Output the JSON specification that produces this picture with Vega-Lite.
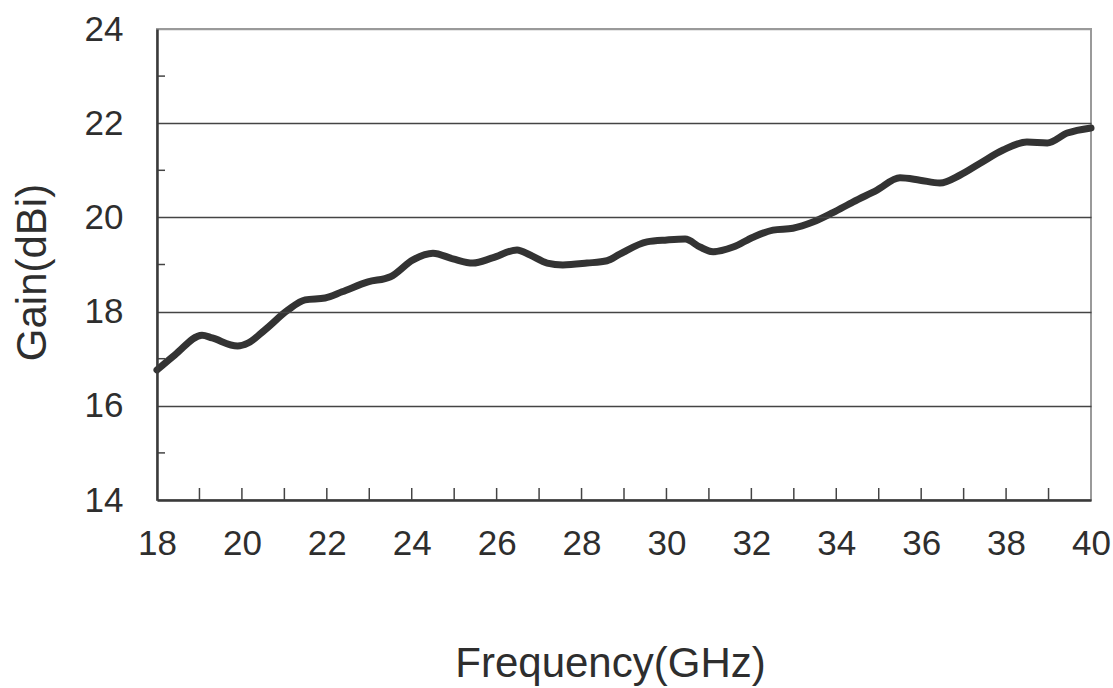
{
  "$schema": "https://vega.github.io/schema/vega-lite/v6.json",
  "width": 934,
  "height": 471,
  "autosize": {"type": "none"},
  "padding": {"left": 157, "top": 29, "right": 22, "bottom": 188},
  "background": "white",
  "config": {
    "view": {"stroke": "#9a9a9a", "strokeWidth": 2},
    "font": "Liberation Sans"
  },
  "datasets": {
    "gain": [
      {"f": 18.0, "g": 16.76},
      {"f": 18.42, "g": 17.08},
      {"f": 19.06, "g": 17.5},
      {"f": 19.3, "g": 17.44},
      {"f": 19.9, "g": 17.27},
      {"f": 20.14, "g": 17.33},
      {"f": 20.54, "g": 17.61},
      {"f": 21.08, "g": 18.03},
      {"f": 21.49, "g": 18.25},
      {"f": 21.96, "g": 18.29},
      {"f": 22.36, "g": 18.42},
      {"f": 22.97, "g": 18.63},
      {"f": 23.5, "g": 18.74},
      {"f": 24.03, "g": 19.1},
      {"f": 24.5, "g": 19.24},
      {"f": 24.97, "g": 19.12},
      {"f": 25.44, "g": 19.03},
      {"f": 25.9, "g": 19.14},
      {"f": 26.48, "g": 19.31},
      {"f": 26.79, "g": 19.2},
      {"f": 27.19, "g": 19.03},
      {"f": 27.56, "g": 18.99},
      {"f": 28.13, "g": 19.03},
      {"f": 28.6, "g": 19.08},
      {"f": 28.9, "g": 19.22},
      {"f": 29.54, "g": 19.48},
      {"f": 30.01, "g": 19.52},
      {"f": 30.44, "g": 19.54},
      {"f": 30.79, "g": 19.37},
      {"f": 31.1, "g": 19.27},
      {"f": 31.57, "g": 19.37},
      {"f": 32.04, "g": 19.58},
      {"f": 32.51, "g": 19.73},
      {"f": 32.98, "g": 19.77},
      {"f": 33.45, "g": 19.9},
      {"f": 33.92, "g": 20.1},
      {"f": 34.4, "g": 20.33},
      {"f": 34.96, "g": 20.58},
      {"f": 35.5, "g": 20.84},
      {"f": 35.97, "g": 20.79},
      {"f": 36.44, "g": 20.73},
      {"f": 36.92, "g": 20.9},
      {"f": 37.39, "g": 21.15},
      {"f": 37.93, "g": 21.43},
      {"f": 38.49, "g": 21.6},
      {"f": 38.97, "g": 21.58},
      {"f": 39.44, "g": 21.79},
      {"f": 40.0, "g": 21.9}
    ],
    "xticks": [
      {"f": 19}, {"f": 20}, {"f": 21}, {"f": 22}, {"f": 23}, {"f": 24}, {"f": 25},
      {"f": 26}, {"f": 27}, {"f": 28}, {"f": 29}, {"f": 30}, {"f": 31}, {"f": 32},
      {"f": 33}, {"f": 34}, {"f": 35}, {"f": 36}, {"f": 37}, {"f": 38}, {"f": 39}
    ],
    "yticks": [
      {"g": 15}, {"g": 17}, {"g": 19}, {"g": 21}, {"g": 23}
    ]
  },
  "layer": [
    {
      "data": {"name": "gain"},
      "mark": {"type": "line", "color": "#333333", "strokeWidth": 7, "interpolate": "monotone", "strokeCap": "round", "strokeJoin": "round", "clip": false},
      "encoding": {
        "x": {
          "field": "f", "type": "quantitative",
          "scale": {"domain": [18, 40], "nice": false, "zero": false},
          "axis": {
            "values": [18, 20, 22, 24, 26, 28, 30, 32, 34, 36, 38, 40],
            "grid": false, "ticks": false, "tickSize": 0,
            "labelFontSize": 35, "labelColor": "#2e2e2e", "labelPadding": 26, "labelFlush": false,
            "domainColor": "#3a3a3a", "domainWidth": 2.5,
            "title": "Frequency(GHz)", "titleFontSize": 42, "titleFontWeight": "normal",
            "titleColor": "#2e2e2e", "titlePadding": 82, "titleX": 453, "zindex": 1
          }
        },
        "y": {
          "field": "g", "type": "quantitative",
          "scale": {"domain": [14, 24], "nice": false, "zero": false},
          "axis": {
            "values": [14, 16, 18, 20, 22, 24],
            "grid": true,
            "gridColor": {"condition": {"test": "datum.value == 24 || datum.value == 14", "value": "#9a9a9a"}, "value": "#444444"},
            "gridWidth": 1.5,
            "ticks": false, "tickSize": 0,
            "labelFontSize": 35, "labelColor": "#2e2e2e", "labelPadding": 34,
            "domainColor": "#3a3a3a", "domainWidth": 2.5,
            "title": "Gain(dBi)", "titleFontSize": 42, "titleFontWeight": "normal",
            "titleColor": "#2e2e2e", "titlePadding": 30, "titleY": 243, "zindex": 1
          }
        }
      }
    },
    {
      "data": {"name": "xticks"},
      "mark": {"type": "tick", "orient": "vertical", "size": 24, "thickness": 1.5, "color": "#444444", "clip": true, "opacity": 1},
      "encoding": {
        "x": {"field": "f", "type": "quantitative"},
        "y": {"datum": 14, "type": "quantitative"}
      }
    },
    {
      "data": {"name": "yticks"},
      "mark": {"type": "tick", "orient": "horizontal", "size": 16, "thickness": 1.5, "color": "#444444", "clip": true, "opacity": 1},
      "encoding": {
        "x": {"datum": 18, "type": "quantitative"},
        "y": {"field": "g", "type": "quantitative"}
      }
    }
  ]
}
